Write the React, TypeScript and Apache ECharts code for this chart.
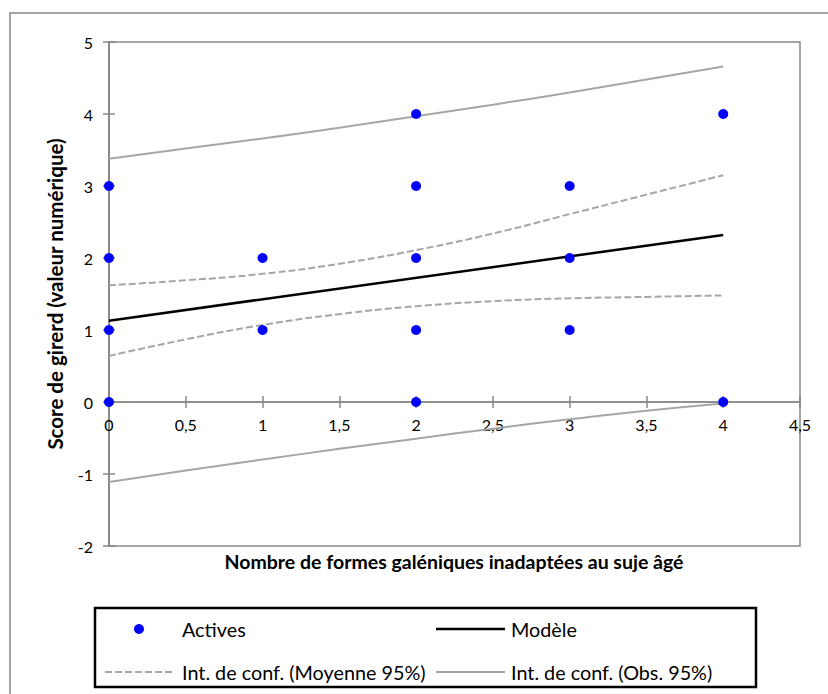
import React, { useEffect, useRef } from "react";
import * as echarts from "echarts";

const pointX = [0, 0, 0, 0, 1, 1, 2, 2, 2, 2, 2, 3, 3, 3, 4, 4];
const pointY = [0, 1, 2, 3, 1, 2, 0, 1, 2, 3, 4, 1, 2, 3, 0, 4];

const modelX = [0, 4];
const modelY = [1.13, 2.32];

const curveX = [0, 0.5, 1, 1.5, 2, 2.5, 3, 3.5, 4];
const meanUpper = [1.62, 1.69, 1.78, 1.92, 2.11, 2.34, 2.61, 2.88, 3.15];
const meanLower = [0.64, 0.87, 1.07, 1.22, 1.33, 1.4, 1.44, 1.46, 1.48];
const obsUpper = [3.38, 3.52, 3.66, 3.81, 3.97, 4.13, 4.3, 4.48, 4.66];
const obsLower = [-1.11, -0.95, -0.8, -0.65, -0.51, -0.37, -0.24, -0.12, -0.02];

const xTickValues = [0, 0.5, 1, 1.5, 2, 2.5, 3, 3.5, 4, 4.5];
const xTickLabels = ["0", "0,5", "1", "1,5", "2", "2,5", "3", "3,5", "4", "4,5"];

const NAME_PTS = "Actives";
const NAME_MODEL = "Modèle";
const NAME_MEAN = "Int. de conf. (Moyenne 95%)";
const NAME_OBS = "Int. de conf. (Obs. 95%)";

const X_TITLE = "Nombre de formes galéniques inadaptées au suje âgé";
const Y_TITLE = "Score de girerd (valeur numérique)";

const FONT = "Lato, 'Open Sans', sans-serif";
const AXIS_GRAY = "#898989";
const CI_GRAY = "#A6A6A6";

const DASH_ICON =
  "path://M0,0h7v2h-7zM10,0h7v2h-7zM20,0h7v2h-7zM30,0h7v2h-7zM40,0h7v2h-7zM50,0h7v2h-7zM60,0h7v2h-7zM70,0h0.01v2h-0.01z";

const zip = (xs: number[], ys: number[]) => xs.map((x, i) => [x, ys[i]]);

export default function App() {
  const ref = useRef<HTMLDivElement>(null);
  useEffect(() => {
    if (!ref.current) return;
    const chart = echarts.init(ref.current, undefined, { renderer: "svg" });
    const tickStyle = { color: AXIS_GRAY, width: 1.5 };
    const xBase = {
      type: "value",
      min: 0,
      max: 4.5,
      interval: 0.5,
      position: "bottom",
      splitLine: { show: false },
      axisLabel: { show: false },
    };
    const yBase = {
      type: "value",
      min: -2,
      max: 5,
      interval: 1,
      position: "left",
      splitLine: { show: false },
    };
    const textBase = { fontFamily: FONT, fontSize: 19.8, color: "#000", lineHeight: 20 };
    const legendBase = { padding: 0, itemGap: 0, symbolKeepAspect: false };
    chart.setOption({
      animation: false,
      backgroundColor: "#fff",
      grid: {
        left: 109,
        right: 28,
        top: 42,
        bottom: 148,
        containLabel: false,
        show: true,
        borderColor: AXIS_GRAY,
        borderWidth: 1.5,
        backgroundColor: "transparent",
      },
      xAxis: [
        {
          ...xBase,
          axisLine: { show: true, onZero: true, onZeroAxisIndex: 0, lineStyle: tickStyle },
          axisTick: { show: true, inside: false, length: 6, lineStyle: tickStyle },
        },
        {
          ...xBase,
          axisLine: { show: true, onZero: true, onZeroAxisIndex: 0, lineStyle: tickStyle },
          axisTick: { show: true, inside: true, length: 6, lineStyle: tickStyle },
        },
      ],
      yAxis: [
        {
          ...yBase,
          axisLine: { show: true, onZero: false, lineStyle: tickStyle },
          axisTick: { show: true, inside: false, length: 6, lineStyle: tickStyle },
          axisLabel: {
            show: true,
            fontFamily: FONT,
            fontSize: 16,
            color: "#000",
            margin: 16,
            showMinLabel: true,
            showMaxLabel: true,
          },
        },
        {
          ...yBase,
          axisLine: { show: true, onZero: false, lineStyle: tickStyle },
          axisTick: { show: true, inside: true, length: 6, lineStyle: tickStyle },
          axisLabel: { show: false },
        },
      ],
      legend: [
        {
          ...legendBase,
          left: 134,
          top: 619,
          itemWidth: 10,
          itemHeight: 10,
          textStyle: { ...textBase, padding: [0, 0, 0, 33] },
          data: [{ name: NAME_PTS, icon: "circle" }],
        },
        {
          ...legendBase,
          left: 436,
          top: 619,
          itemWidth: 69,
          itemHeight: 2.5,
          textStyle: { ...textBase, padding: [0, 0, 0, 1] },
          data: [{ name: NAME_MODEL, icon: "rect" }],
        },
        {
          ...legendBase,
          left: 105,
          top: 662,
          itemWidth: 70,
          itemHeight: 2,
          textStyle: { ...textBase, padding: [0, 0, 0, 2] },
          data: [{ name: NAME_MEAN, icon: DASH_ICON }],
        },
        {
          ...legendBase,
          left: 436,
          top: 662,
          itemWidth: 69,
          itemHeight: 2,
          textStyle: { ...textBase, padding: [0, 0, 0, 1] },
          data: [{ name: NAME_OBS, icon: "rect" }],
        },
      ],
      graphic: [
        {
          type: "rect",
          shape: { x: 10, y: 13, width: 840, height: 720 },
          style: { fill: "none", stroke: AXIS_GRAY, lineWidth: 1.5 },
          silent: true,
          z: -10,
        },
        {
          type: "rect",
          shape: { x: 95, y: 608, width: 661, height: 79 },
          style: { fill: "none", stroke: "#000", lineWidth: 2.5 },
          silent: true,
        },
        {
          type: "text",
          x: 454,
          y: 561,
          style: {
            text: X_TITLE,
            fontFamily: FONT,
            fontWeight: "bold",
            fontSize: 19.5,
            fill: "#000",
            align: "center",
            verticalAlign: "middle",
          },
        },
        {
          type: "text",
          x: 55,
          y: 294,
          rotation: Math.PI / 2,
          style: {
            text: Y_TITLE,
            fontFamily: FONT,
            fontWeight: "bold",
            fontSize: 20.5,
            fill: "#000",
            align: "center",
            verticalAlign: "middle",
          },
        },
      ],
      series: [
        {
          name: "xTickLabels",
          type: "scatter",
          data: xTickValues.map((v) => [v, 0]),
          symbol: "circle",
          symbolSize: 1,
          clip: false,
          silent: true,
          itemStyle: { color: "rgba(0,0,0,0)" },
          label: {
            show: true,
            position: "bottom",
            distance: 14,
            formatter: (p: any) => xTickLabels[p.dataIndex],
            fontFamily: FONT,
            fontSize: 16,
            color: "#000",
            opacity: 1,
          },
          z: 1,
        },
        {
          name: NAME_OBS,
          type: "line",
          data: zip(curveX, obsUpper),
          symbol: "none",
          smooth: true,
          lineStyle: { color: CI_GRAY, width: 2 },
          itemStyle: { color: CI_GRAY },
          z: 2,
        },
        {
          name: NAME_OBS,
          type: "line",
          data: zip(curveX, obsLower),
          symbol: "none",
          smooth: true,
          lineStyle: { color: CI_GRAY, width: 2 },
          itemStyle: { color: CI_GRAY },
          z: 2,
        },
        {
          name: NAME_MEAN,
          type: "line",
          data: zip(curveX, meanUpper),
          symbol: "none",
          smooth: true,
          lineStyle: { color: CI_GRAY, width: 2, type: [7, 3] },
          itemStyle: { color: CI_GRAY },
          z: 2,
        },
        {
          name: NAME_MEAN,
          type: "line",
          data: zip(curveX, meanLower),
          symbol: "none",
          smooth: true,
          lineStyle: { color: CI_GRAY, width: 2, type: [7, 3] },
          itemStyle: { color: CI_GRAY },
          z: 2,
        },
        {
          name: NAME_MODEL,
          type: "line",
          data: zip(modelX, modelY),
          symbol: "none",
          lineStyle: { color: "#000", width: 2.5 },
          itemStyle: { color: "#000" },
          z: 3,
        },
        {
          name: NAME_PTS,
          type: "scatter",
          data: zip(pointX, pointY),
          symbol: "circle",
          symbolSize: 10,
          clip: false,
          itemStyle: { color: "#0000FF", opacity: 1 },
          z: 5,
        },
      ],
    });
    return () => chart.dispose();
  }, []);
  return (
    <div
      ref={ref}
      style={{ position: "absolute", left: 0, top: 0, width: 828, height: 694 }}
    />
  );
}
